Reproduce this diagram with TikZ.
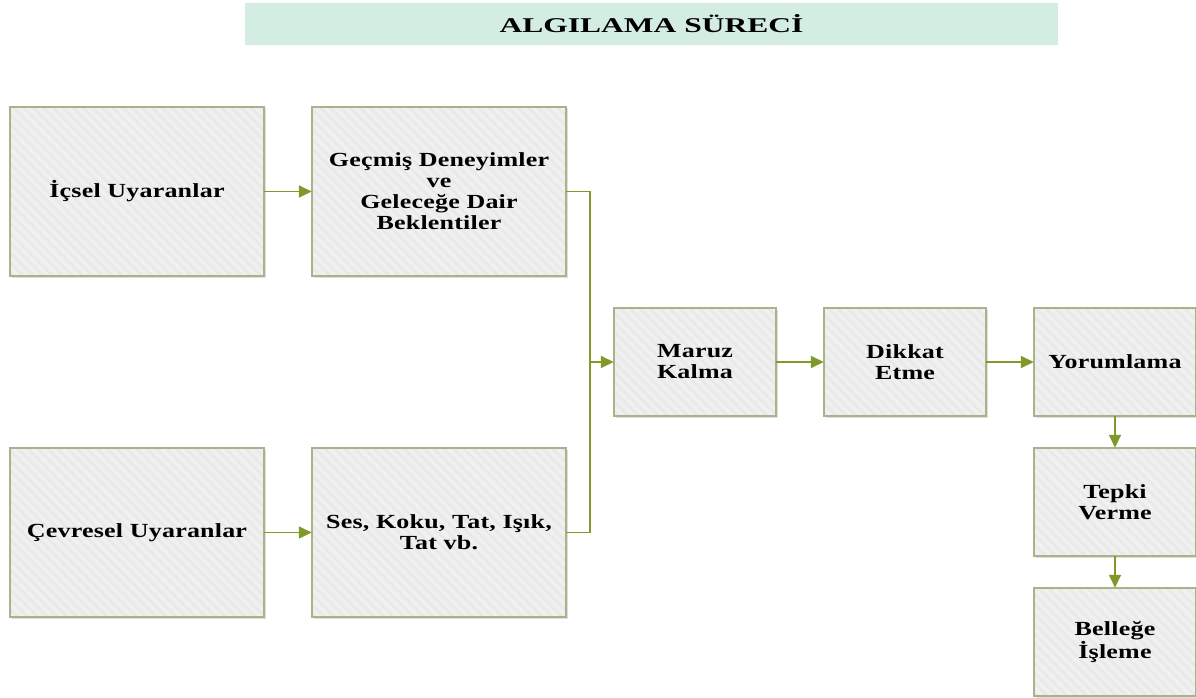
\documentclass[tikz,border=0pt]{standalone}
\usepackage{fontspec}
\setmainfont{Liberation Serif}
\newfontfamily\boxfont{Liberation Serif}[FakeStretch=1.3, LetterSpace=1]
\newfontfamily\titlefont{Liberation Serif}[FakeStretch=1.5]
\usetikzlibrary{arrows.meta,shadows,patterns.meta}
\definecolor{linegreen}{HTML}{7F9A2A}
\definecolor{boxedge}{HTML}{A9B38A}
\definecolor{boxfill}{HTML}{F0F0F0}
\definecolor{boxstripe}{HTML}{E9E9E9}
\definecolor{titlefill}{HTML}{D3EDE2}
\tikzset{
  box/.style={fill=boxfill, align=center, inner sep=0pt,
    drop shadow={opacity=0.25, shadow xshift=1.5pt, shadow yshift=-1.5pt},
    postaction={pattern={Lines[angle=-45, distance=7pt, line width=2.5pt]}, pattern color=boxstripe},
    postaction={draw=boxedge, line width=1.2pt},
    font=\boxfont\bfseries\fontsize{20}{21}\selectfont},
  bigbox/.style={box, minimum width=254pt, minimum height=169pt},
  smallbox/.style={box, minimum width=162pt, minimum height=108pt},
  link/.style={draw=linegreen, line width=1.6pt},
  arrowlink/.style={link, -{Triangle[length=13pt,width=12pt]}, color=linegreen},
}
\begin{document}
\begin{tikzpicture}[x=1pt,y=-1pt]
\useasboundingbox (0,0) rectangle (1196,698);
% title bar
\node[fill=titlefill, minimum width=813pt, minimum height=42pt, inner sep=0pt,
  font=\titlefont\bfseries\fontsize{21}{24}\selectfont] (title) at (651.5,24) {ALGILAMA SÜRECİ};
% input boxes
\node[bigbox] (ic) at (137,191.5) {İçsel Uyaranlar};
\node[bigbox] (ge) at (439,191.5) {Geçmiş Deneyimler\\ve\\Geleceğe Dair\\Beklentiler};
\node[bigbox] (ce) at (137,532.5) {Çevresel Uyaranlar};
\node[bigbox] (se) at (439,532.5) {Ses, Koku, Tat, Işık,\\Tat vb.};
% process chain
\node[smallbox] (ma) at (695,362) {Maruz\\Kalma};
\node[smallbox] (di) at (905,362) {Dikkat\\Etme};
\node[smallbox] (yo) at (1115,362) {Yorumlama};
\node[smallbox] (te) at (1115,502) {Tepki\\Verme};
\node[smallbox] (be) at (1115,642) {Belleğe\\İşleme};
% connectors
\coordinate (join) at (590,362);
\draw[arrowlink] (ic.east) -- (ge.west);
\draw[arrowlink] (ce.east) -- (se.west);
\draw[link] (ge.east) -| (join);
\draw[link] (se.east) -| (join);
\draw[arrowlink] (join) -- (ma.west);
\draw[arrowlink] (ma.east) -- (di.west);
\draw[arrowlink] (di.east) -- (yo.west);
\draw[arrowlink] (yo.south) -- (te.north);
\draw[arrowlink] (te.south) -- (be.north);
\end{tikzpicture}
\end{document}
